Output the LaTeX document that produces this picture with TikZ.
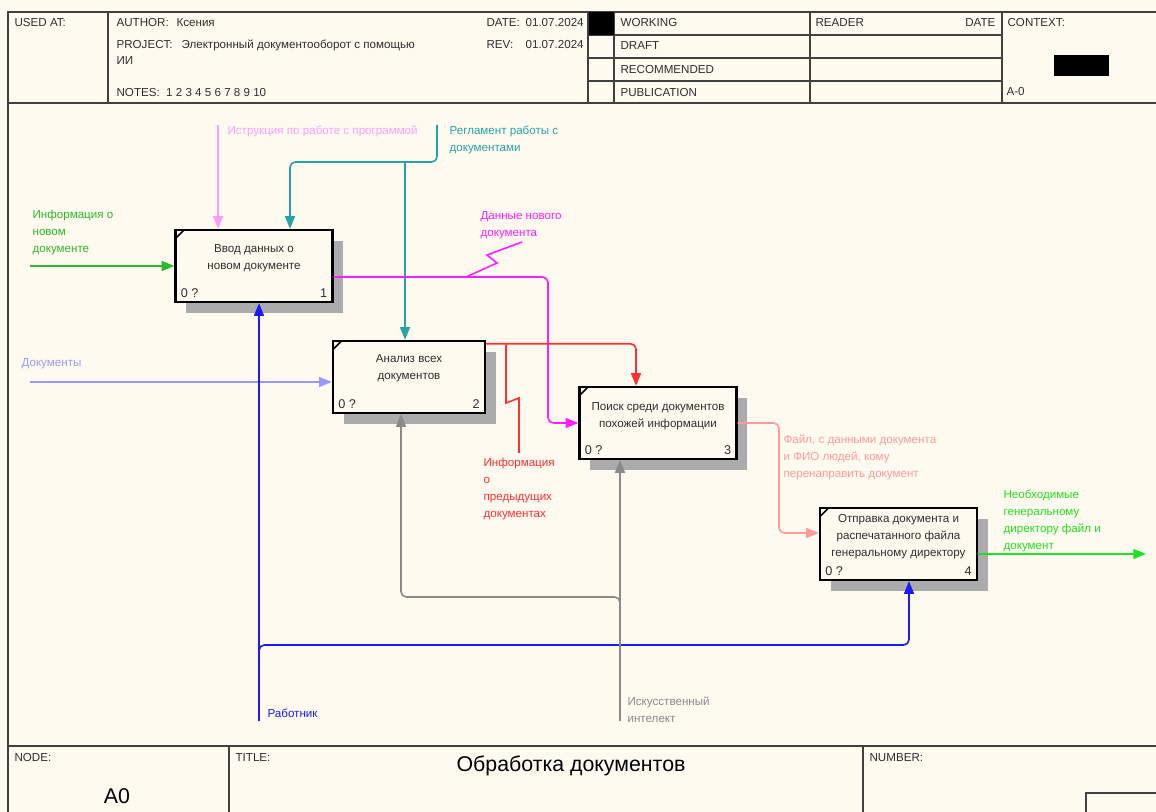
\documentclass[tikz,border=0pt]{standalone}
\usepackage{fontspec}
\setmainfont{Liberation Sans}
\usetikzlibrary{arrows.meta, positioning, calc, shadows}
\definecolor{bg}{HTML}{FFFAF0}
\definecolor{frame}{HTML}{404040}
\definecolor{ink}{HTML}{2E2E2E}
\definecolor{cin}{HTML}{2DB82D}
\definecolor{cout}{HTML}{22E022}
\definecolor{cpink}{HTML}{FF9EFF}
\definecolor{cteal}{HTML}{26A3A3}
\definecolor{cmag}{HTML}{FF1FFF}
\definecolor{cdoc}{HTML}{9999FF}
\definecolor{cred}{HTML}{FF3030}
\definecolor{csal}{HTML}{FF9A9A}
\definecolor{cblue}{HTML}{1A1AFF}
\definecolor{cgray}{HTML}{8A8A8A}

\begin{document}
\begin{tikzpicture}[x=0.75pt, y=-0.75pt,
    every node/.style={font=\fontsize{8.7}{12.75}\selectfont, text=ink, inner sep=1pt},
    act/.style={rectangle, draw=black, line width=1.8pt, fill=bg,
                minimum width=117.75pt, minimum height=54pt,
                drop shadow={shadow xshift=8pt, shadow yshift=-8pt, fill=black!33, opacity=1}},
    acttxt/.style={align=center},
    num/.style={font=\fontsize{9.5}{12}\selectfont},
    lab/.style={align=left, anchor=north west},
    hd/.style={anchor=west},
    big/.style={font=\fontsize{16}{19}\selectfont, text=black},
    arr/.style={-{Triangle[length=9.5pt, width=7.5pt]}, line width=1.2pt, rounded corners=4pt},
    zig/.style={line width=1.2pt},
    rule/.style={draw=frame, line width=1.1pt},
]
\fill[bg] (0,0) rectangle (1156,812);
\useasboundingbox (0,0) rectangle (1156,812);

% frame
\draw[rule] (8,830) -- (8,12) -- (1170,12);
\draw[rule] (8,103) -- (1170,103);
\draw[rule] (8,746) -- (1170,746);
\foreach \x in {108,588,614,810,1002}
    \draw[rule] (\x,12) -- (\x,103);
\foreach \y in {35,58,81}
    \draw[rule] (588,\y) -- (1002,\y);
\fill (589,12) rectangle (614,35);
\fill (1054,55) rectangle (1109,76);
\foreach \x in {229,863}
    \draw[rule] (\x,746) -- (\x,830);
\draw[rule] (1086,830) |- (1170,793);

% header
\node[hd] (usedat) at (13,23) {USED AT:};
\node[hd] (author) at (115,23) {\makebox[45pt][l]{AUTHOR:}Ксения};
\node[hd] (project) at (115,45) {\makebox[48.75pt][l]{PROJECT:}Электронный документооборот с помощью};
\node[hd] (project2) at (115,61) {ИИ};
\node[hd] (notes) at (115,93) {NOTES:\ \ 1 2 3 4 5 6 7 8 9 10};
\node[hd] (date) at (485,23) {\makebox[29.25pt][l]{DATE:}01.07.2024};
\node[hd] (rev) at (485,45) {\makebox[29.25pt][l]{REV:}01.07.2024};
\foreach \y/\st in {23/WORKING, 46/DRAFT, 70/RECOMMENDED, 93/PUBLICATION}
    \node[hd] (st\y) at (619,\y) {\st};
\node[hd] (reader) at (814,23) {READER};
\node[anchor=east] (rdate) at (997,23) {DATE};
\node[hd] (context) at (1006,23) {CONTEXT:};
\node[hd] (ctxnum) at (1005,92) {A-0};

% footer
\node[hd] (nodelab) at (13,758) {NODE:};
\node[big] (nodenum) at (117,796) {A0};
\node[hd] (titlelab) at (234,758) {TITLE:};
\node[big] (title) at (571,766) {Обработка документов};
\node[hd] (numlab) at (868,758) {NUMBER:};

% activities
\node[act] (a1) at (254,266) {};
\node[act, minimum width=114pt] (a2) at (409,377) {};
\node[act] (a3) at (658,423) {};
\node[act] (a4) at (898.5,544) {};

\node[acttxt] (a1t) at ($(a1.north)+(0,29)$) {Ввод данных о\\новом документе};
\node[acttxt] (a2t) at ($(a2.north)+(0,28)$) {Анализ всех\\документов};
\node[acttxt] (a3t) at ($(a3.north)+(0,30)$) {Поиск среди документов\\похожей информации};
\node[acttxt] (a4t) at ($(a4.north)+(0,30)$) {Отправка документа и\\распечатанного файла\\генеральному директору};

\foreach \b/\n in {a1/1, a2/2, a3/3, a4/4}{
    \draw[line width=1.2pt] ($(\b.north west)+(2,9)$) -- ($(\b.north west)+(9,2)$);
    \node[num, anchor=south west] (\b-z) at ($(\b.south west)+(5,-4)$) {0 ?};
    \node[num, anchor=south east] (\b-n) at ($(\b.south east)+(-5,-4)$) {\n};
}

% inputs
\coordinate (gin) at (30,266);
\draw[arr, cin] (gin) -- (a1.west);
\node[lab, text=cin] (lgin) at (31,208) {Информация о\\новом\\документе};

\coordinate (dk) at (30,382);
\draw[arr, cdoc] (dk) -- (dk -| a2.west);
\node[hd, text=cdoc] (ldk) at (20,364) {Документы};

% controls
\coordinate (ins) at (218,125);
\draw[arr, cpink] (ins) -- (ins |- a1.north);
\node[hd, text=cpink] (lins) at (226,131) {Иструкция по работе с программой};

\coordinate (reg) at (437,125);
\coordinate (reg1) at (290,162);
\coordinate (regj) at (405,162);
\draw[arr, cteal] (reg) |- (reg1) -- (reg1 |- a1.north);
\draw[arr, cteal] (regj) -- (regj |- a2.north);
\node[lab, text=cteal] (lreg) at (448,124) {Регламент работы с\\документами};

% outputs
\coordinate (mv) at (548,350);
\draw[arr, cmag] ($(a1.east)+(0,11)$) -| (mv) |- (a3.west);
\coordinate (mz) at (466,277);
\draw[zig, cmag] (mz) -- ++(31,-14) -- ++(-10,-8) -- ++(35,-13);
\node[lab, text=cmag] (lmag) at (479,210) {Данные нового\\документа};

\draw[arr, cred] ($(a2.north east)+(0,4)$) -| ($(a3.north)+(-22,0)$);
\coordinate (rz) at (506,345);
\draw[zig, cred] (rz) -- ++(0,58) -- ++(13,-5) -- ++(0,55);
\node[lab, text=cred] (lred) at (482,456) {Информация\\о\\предыдущих\\документах};

\coordinate (sv) at (779,480);
\draw[arr, csal] (a3.east) -| (sv) |- ($(a4.west)+(0,-11)$);
\node[lab, text=csal] (lsal) at (782,433) {Файл, с данными документа\\и ФИО людей, кому\\перенаправить документ};

\coordinate (og) at (1146,554);
\draw[arr, cout] ($(a4.east)+(0,10)$) -- (og);
\node[lab, text=cout] (lout) at (1002,488) {Необходимые\\генеральному\\директору файл и\\документ};

% mechanisms
\coordinate (wk) at (259,721);
\coordinate (wkj) at (259,660);
\coordinate (wkx) at (600,645);
\draw[arr, cblue] (wk) -- (wk |- a1.south);
\draw[arr, cblue] (wkj) |- (wkx) -| ($(a4.south)+(10.5,0)$);
\node[hd, text=cblue] (lwk) at (266,713) {Работник};

\coordinate (ai) at (620,721);
\coordinate (aij) at (620,610);
\coordinate (aix) at (500,597);
\draw[arr, cgray] (ai) -- (ai |- a3.south);
\draw[arr, cgray] (aij) |- (aix) -| ($(a2.south)+(-8,0)$);
\node[lab, text=cgray] (lai) at (626,695) {Искусственный\\интелект};
\end{tikzpicture}
\end{document}
